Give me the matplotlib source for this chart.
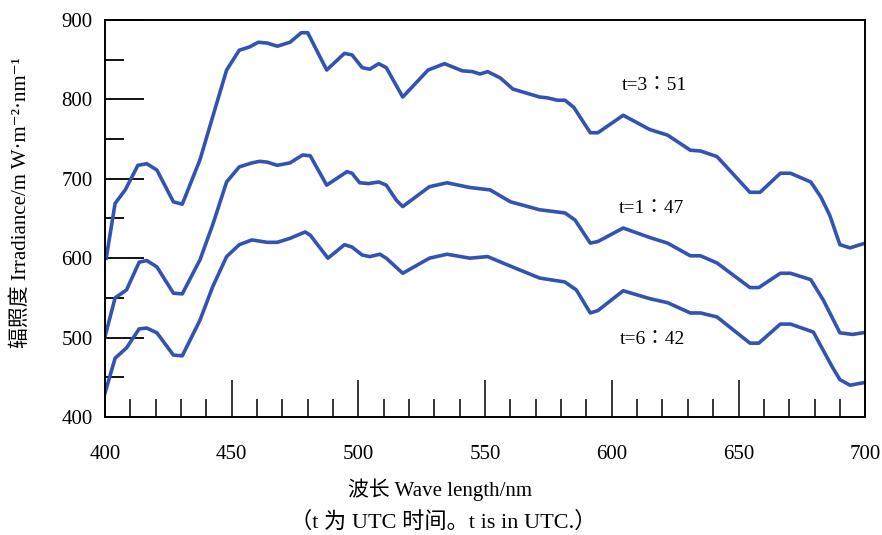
import numpy as np
import matplotlib.pyplot as plt
from matplotlib.ticker import MultipleLocator

plt.rcParams['font.family'] = ['Liberation Serif', 'Noto Sans CJK SC', 'DejaVu Sans']

# t = 3:51
wl3 = [400.5, 404, 408, 413, 416.5, 420.5, 427, 430.5, 437.5, 442.5, 448, 453, 457,
       460.5, 464, 468, 473, 477.5, 480, 487.5, 494.5, 497.5, 501.5, 504.5, 508, 511,
       517.5, 527.5, 534, 541, 545, 548, 551, 556, 561, 571.5, 574.5, 578.5, 581.5,
       585, 591.5, 594.5, 604.5, 615, 622, 631, 635, 641.5, 654.5, 658.5, 666.5,
       670.5, 678.5, 682.5, 686, 690, 694, 699]
ir3 = [600, 669, 686, 717, 719, 711, 671, 668, 724, 778, 837, 862, 866, 872, 871, 867,
       872, 884, 884, 837, 858, 856, 840, 838, 845, 840, 803, 837, 845, 836, 835, 832,
       835, 827, 813, 803, 802, 799, 799, 790, 758, 758, 780, 762, 755, 736, 735, 728,
       683, 683, 707, 707, 696, 677, 654, 617, 613, 618]

# t = 1:47
wl1 = [400, 404, 408.5, 413.5, 416.5, 420.5, 427, 430.5, 437.5, 442.5, 448, 453, 458,
       461, 464, 468, 473, 478, 481, 487.5, 495.5, 497.5, 500.5, 504, 508, 511, 515,
       517.5, 528, 535, 544, 552, 560, 571.5, 581.5, 585.5, 591.5, 594.5, 604.5, 615,
       622, 631, 635, 641.5, 654.5, 658, 666.5, 670.5, 678.5, 683.5, 690, 695, 699]
ir1 = [501, 550, 560, 595, 597, 589, 556, 555, 598, 642, 696, 715, 720, 722, 721, 717,
       720, 730, 729, 692, 709, 707, 695, 694, 696, 692, 673, 665, 690, 695, 689, 686,
       671, 661, 657, 648, 619, 621, 638, 626, 619, 603, 603, 594, 563, 563, 581, 581,
       573, 547, 506, 504, 506]

# t = 6:42
wl6 = [400, 404, 408.5, 413.5, 416.5, 420.5, 427, 430.5, 437.5, 442.5, 448, 453, 458,
       464, 468, 473, 479, 481, 488, 494.5, 497.5, 501.5, 504.5, 508.5, 511, 517.5, 528,
       535, 544, 551, 560, 571.5, 581.5, 586, 591.5, 594.5, 604.5, 615, 622, 631, 635,
       641.5, 654.5, 658, 666.5, 670.5, 679.5, 687, 690, 694, 699]
ir6 = [430, 474, 487, 511, 512, 506, 478, 477, 522, 564, 602, 617, 623, 620, 620, 625,
       633, 629, 600, 617, 614, 604, 602, 605, 600, 581, 600, 605, 600, 602, 590, 575,
       570, 560, 531, 534, 559, 549, 544, 531, 531, 526, 493, 493, 517, 517, 507, 463,
       447, 440, 443]

labels = ['t=3：51', 't=1：47', 't=6：42']
label_pos = [(617, 817), (615.5, 663), (616, 497)]

color = '#3353b3'

fig = plt.figure(figsize=(8.82, 5.35), dpi=100)
ax = fig.add_axes([0.119, 0.2206, 0.862, 0.742])

for wl, ir in [(wl3, ir3), (wl1, ir1), (wl6, ir6)]:
    ax.plot(wl, ir, color=color, linewidth=2.6, solid_joinstyle='round')

# TC glyph for the full-width colon sits centred in its box
for txt, (x, y) in zip(labels, label_pos):
    ax.text(x, y, txt, fontsize=14, ha='center', va='center',
            family=['Liberation Serif', 'Noto Sans CJK TC'])

ax.set_xlim(400, 700)
ax.set_ylim(400, 900)
ax.xaxis.set_major_locator(MultipleLocator(50))
ax.xaxis.set_minor_locator(MultipleLocator(10))
ax.yaxis.set_major_locator(MultipleLocator(100))
ax.yaxis.set_minor_locator(MultipleLocator(50))
ax.tick_params(axis='x', which='major', direction='in', length=27, width=1.1,
               pad=20, labelsize=15)
ax.tick_params(axis='x', which='minor', direction='in', length=13, width=1.1)
ax.tick_params(axis='y', which='major', direction='in', length=28, width=1.3,
               pad=9, labelsize=15)
ax.tick_params(axis='y', which='minor', direction='in', length=14, width=1.3)
for s in ax.spines.values():
    s.set_linewidth(1.4)

fig.text(0.024, 1 - 203 / 535, '辐照度 Irradiance/m W·m⁻²·nm⁻¹', rotation=90,
         ha='center', va='center', fontsize=15)
fig.text(440 / 882, 1 - 490 / 535, '波长 Wave length/nm', ha='center', va='center',
         fontsize=15)
fig.text(443 / 882, 1 - 522 / 535, '（t 为 UTC 时间。t is in UTC.）', ha='center',
         va='center', fontsize=16)

fig.savefig('out.png', dpi=100)
